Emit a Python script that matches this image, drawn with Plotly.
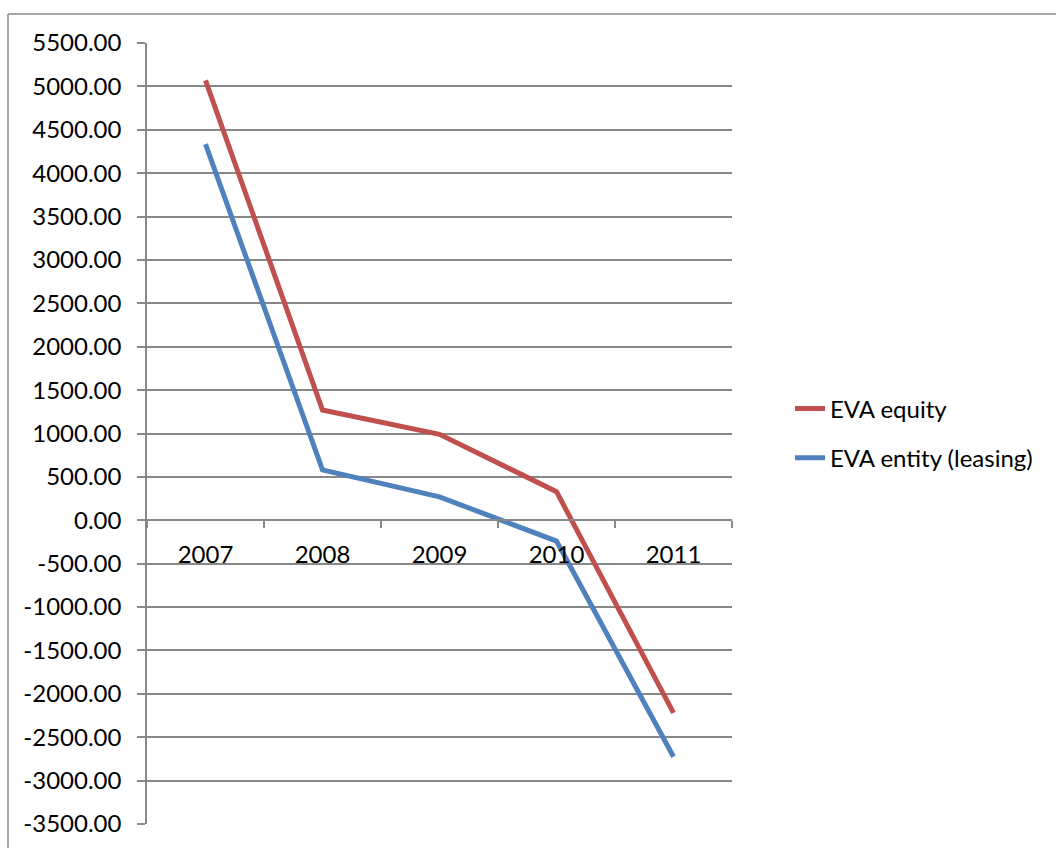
import plotly.graph_objects as go

years = ["2007", "2008", "2009", "2010", "2011"]
eva_equity = [5070, 1270, 990, 330, -2220]
eva_entity = [4335, 580, 270, -240, -2725]
series_names = ["EVA equity", "EVA entity (leasing)"]
y_ticks = [5500, 5000, 4500, 4000, 3500, 3000, 2500, 2000, 1500, 1000, 500, 0,
           -500, -1000, -1500, -2000, -2500, -3000, -3500]
y_ticklabels = [f"{v:.2f}" for v in y_ticks]

W, H = 1056, 848
L, R, T, B = 147, 732, 43, 824
ymin, ymax = -3500, 5500

grid = "#888888"
FAM = "Lato, Open Sans, sans-serif"
font = dict(family=FAM, size=24, color="#000000")

fig = go.Figure()
fig.add_trace(go.Scatter(x=years, y=eva_equity, name=series_names[0], mode="lines",
                         line=dict(color="#C0504D", width=5), legendgroup="a"))
fig.add_trace(go.Scatter(x=years, y=eva_entity, name=series_names[1], mode="lines",
                         line=dict(color="#4F81BD", width=5), legendgroup="b"))

pw, ph = R - L, B - T
zero_pos = (0 - ymin) / (ymax - ymin)

fig.update_layout(
    width=W, height=H,
    margin=dict(l=L, r=W - R, t=T, b=H - B, pad=0),
    paper_bgcolor="white", plot_bgcolor="white",
    font=font,
    showlegend=True,
    legend=dict(x=(790 - L) / pw, y=0.5, xanchor="left", yanchor="middle",
                font=dict(family=FAM, size=24, color="#000"),
                tracegroupgap=15, bgcolor="rgba(0,0,0,0)"),
    xaxis=dict(type="category", anchor="free", position=zero_pos,
               showgrid=False, showline=True, linecolor=grid, linewidth=1.5,
               ticks="outside", tickson="boundaries", ticklen=7, tickcolor=grid,
               tickwidth=1.5, ticklabelstandoff=13,
               tickfont=dict(family=FAM, size=24, color="#000"),
               range=[-0.5, 4.5], fixedrange=True),
    yaxis=dict(range=[ymin, ymax], tickvals=y_ticks, ticktext=y_ticklabels,
               showgrid=True, gridcolor=grid, gridwidth=1.5,
               zeroline=False, showline=True, linecolor=grid, linewidth=1.5,
               ticks="outside", ticklen=8, tickcolor=grid, tickwidth=1.5,
               ticklabelstandoff=11,
               tickfont=dict(family=FAM, size=24, color="#000")),
)

# outer chart-area border (top and left edges visible in the reference)
bx = (8 - L) / pw
by = 1 + (T - 14) / ph
fig.add_shape(type="line", xref="paper", yref="paper", x0=bx, x1=bx, y0=by, y1=-0.2,
              line=dict(color=grid, width=1.5))
fig.add_shape(type="line", xref="paper", yref="paper", x0=bx, x1=2.0, y0=by, y1=by,
              line=dict(color=grid, width=1.5))

fig.write_html("out.html")
